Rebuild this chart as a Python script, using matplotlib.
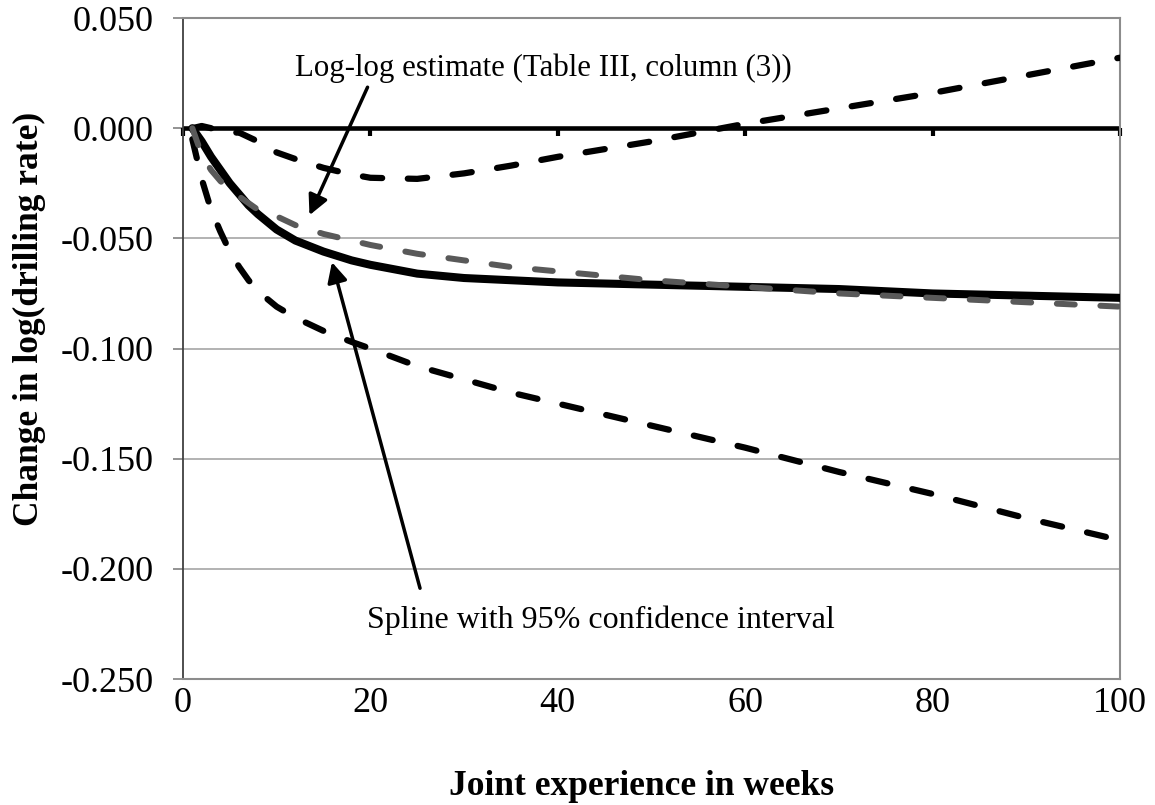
import numpy as np
import matplotlib.pyplot as plt

plt.rcParams['font.family'] = ['Liberation Serif', 'DejaVu Serif']

# weeks of joint experience
weeks = [1, 2, 3, 4, 5, 6, 7, 8, 10, 12, 15, 18, 20, 25, 30, 35, 40,
         50, 60, 70, 80, 90, 100]

# spline estimate and its 95% band
spline = [0.000, -0.006, -0.013, -0.019, -0.025, -0.030, -0.035, -0.039,
          -0.046, -0.051, -0.056, -0.060, -0.062, -0.066, -0.068, -0.069,
          -0.070, -0.071, -0.072, -0.073, -0.075, -0.076, -0.077]
upper = [0.000, 0.001, 0.000, -0.001, -0.002, -0.002, -0.004, -0.006,
         -0.011, -0.014, -0.018, -0.021, -0.0225, -0.023, -0.0205, -0.017,
         -0.013, -0.006, 0.002, 0.009, 0.016, 0.024, 0.032]
lower = [-0.005, -0.023, -0.037, -0.047, -0.056, -0.063, -0.069, -0.074,
         -0.081, -0.086, -0.092, -0.097, -0.100, -0.108, -0.114, -0.120,
         -0.125, -0.135, -0.145, -0.156, -0.166, -0.177, -0.187]

# log-log estimate
loglog = [0.000, -0.012, -0.019, -0.024, -0.028, -0.031, -0.034, -0.037,
          -0.040, -0.044, -0.048, -0.051, -0.053, -0.057, -0.060, -0.063,
          -0.065, -0.069, -0.072, -0.075, -0.077, -0.079, -0.081]

xticks = [0, 20, 40, 60, 80, 100]
yticks = [0.05, 0.0, -0.05, -0.1, -0.15, -0.2, -0.25]

fig = plt.figure(figsize=(11.55, 8.05), dpi=100)
ax = fig.add_axes([0.1584, 0.1565, 0.8113, 0.8211])

for y in yticks[2:-1]:
    ax.axhline(y, color='#a6a6a6', lw=1.2, zorder=1)

# horizontal axis line at zero with its tick marks
ax.axhline(0, color='black', lw=3.3, zorder=2)
ax.plot(xticks, np.zeros(len(xticks)), ls='', marker=3, ms=6, mew=3,
        color='black', zorder=2, clip_on=False)

ax.plot(weeks, upper, color='black', lw=4.5, ls=(0, (3.1, 4.1)),
        dash_capstyle='round', zorder=3)
ax.plot(weeks, lower, color='black', lw=4.5, ls=(0, (3.1, 4.1)),
        dash_capstyle='round', zorder=3)
ax.plot(weeks, spline, color='black', lw=5.8, solid_capstyle='round',
        solid_joinstyle='round', zorder=4)
ax.plot(weeks, loglog, color='#595959', lw=4.3, ls=(0, (3.0, 4.3)),
        dash_capstyle='round', zorder=5)

ax.set_xlim(0, 100)
ax.set_ylim(-0.25, 0.05)
ax.set_xticks(xticks)
ax.set_xticklabels([str(v) for v in xticks])
ax.set_yticks(yticks)
ax.set_yticklabels([f'{v:.3f}' for v in yticks])
ax.tick_params(axis='x', length=0, pad=6, labelsize=26)
ax.tick_params(axis='y', length=7, width=1.2, color='#808080', pad=14,
               labelsize=26)

for side in ['top', 'right', 'bottom']:
    ax.spines[side].set_color('#8c8c8c')
    ax.spines[side].set_linewidth(1.5)
ax.spines['left'].set_color('#404040')
ax.spines['left'].set_linewidth(1.3)

ax.set_xlabel('Joint experience in weeks', fontsize=25.5, fontweight='bold')
ax.set_ylabel('Change in log(drilling rate)', fontsize=25.5,
              fontweight='bold')
ax.xaxis.set_label_coords(0.489, -0.138)
ax.yaxis.set_label_coords(-0.146, 0.545)

ax.text(12.0, 0.0272, 'Log-log estimate (Table III, column (3))',
        fontsize=22.2, va='center', ha='left')
ax.annotate('', xy=(13.5, -0.0395), xytext=(19.7, 0.0186),
            arrowprops=dict(arrowstyle='-|>', lw=2.5, color='black',
                            mutation_scale=30, shrinkA=0, shrinkB=0),
            zorder=6)

ax.text(19.6, -0.2233, 'Spline with 95% confidence interval',
        fontsize=23, va='center', ha='left')
ax.annotate('', xy=(15.9, -0.0608), xytext=(25.3, -0.2088),
            arrowprops=dict(arrowstyle='-|>', lw=2.5, color='black',
                            mutation_scale=30, shrinkA=0, shrinkB=0),
            zorder=6)

fig.savefig('out.png', dpi=100)
